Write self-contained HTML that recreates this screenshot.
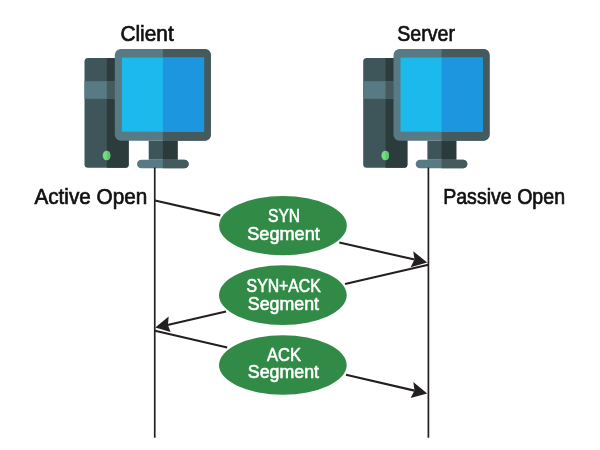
<!DOCTYPE html>
<html><head><meta charset="utf-8">
<style>
html,body{margin:0;padding:0;background:#fff;}
body{width:600px;height:450px;overflow:hidden;}
svg{display:block;will-change:transform;}
text{font-family:"Liberation Sans", sans-serif;}
</style></head>
<body>
<svg width="600" height="450" viewBox="0 0 600 450">
<rect width="600" height="450" fill="#fff"/>
<defs>
<g id="pc">
  <!-- tower -->
  <rect x="84.5" y="57.9" width="44.2" height="109.9" rx="3.5" fill="#3e5659"/>
  <path d="M106.8 57.9 H125.7 A3 3 0 0 1 128.7 60.9 V164.8 A3 3 0 0 1 125.7 167.8 H106.8 Z" fill="#2c3b3c"/>
  <rect x="84.5" y="81.2" width="44.2" height="17.6" fill="#587a84"/>
  <rect x="106.8" y="81.2" width="21.9" height="17.6" fill="#445a5d"/>
  <ellipse cx="106.5" cy="155.6" rx="3.8" ry="4.75" fill="#72de80"/>
  <path d="M106.8 150.86 A3.8 4.75 0 0 1 106.8 160.34 Z" fill="#60c870"/>
  <!-- monitor frame -->
  <rect x="114.8" y="48.9" width="96.1" height="91.9" rx="6" fill="#587a84"/>
  <path d="M162.9 48.9 H204.9 A6 6 0 0 1 210.9 54.9 V134.8 A6 6 0 0 1 204.9 140.8 H162.9 Z" fill="#445a5d"/>
  <rect x="121.8" y="57.6" width="82.3" height="74.1" fill="#1bb9ec"/>
  <rect x="162.9" y="57.6" width="41.2" height="74.1" fill="#1b96df"/>
  <!-- neck -->
  <rect x="148.7" y="140.8" width="28.9" height="18.9" fill="#3d5558"/>
  <rect x="162.9" y="140.8" width="14.7" height="18.9" fill="#2b3a3b"/>
  <!-- base -->
  <rect x="137" y="159.7" width="51.7" height="8.6" rx="4.3" fill="#587a84"/>
  <path d="M162.9 159.7 H184.4 A4.3 4.3 0 0 1 184.4 168.3 H162.9 Z" fill="#445a5d"/>
</g>
</defs>

<use href="#pc"/>
<use href="#pc" transform="translate(278.7 0)"/>

<!-- lifelines -->
<line x1="154.75" y1="167.5" x2="154.75" y2="437.8" stroke="#231f20" stroke-width="1.7"/>
<line x1="428.4" y1="167.5" x2="428.4" y2="437.8" stroke="#231f20" stroke-width="1.7"/>

<!-- arrows -->
<g stroke="#231f20" stroke-width="2.1" fill="none">
  <line x1="155" y1="200.5" x2="220.3" y2="215.36"/>
  <line x1="339.3" y1="242.44" x2="414.5" y2="259.55"/>
  <line x1="428.4" y1="264.7" x2="345" y2="283.99"/>
  <line x1="226" y1="311.5" x2="167.5" y2="325.03"/>
  <line x1="155" y1="330.8" x2="227.2" y2="347.44"/>
  <line x1="346" y1="374.83" x2="414.5" y2="390.61"/>
</g>
<g fill="#231f20">
  <path d="M427.2 262.5 L413.2 251.2 L414.5 259.4 L410.6 267.3 Z"/>
  <path d="M155.3 327.6 L168.7 316.5 L167.9 324.9 L170.6 332.1 Z"/>
  <path d="M427.2 393.5 L413.3 382.0 L414.5 390.5 L410.6 398.0 Z"/>
</g>

<!-- ellipses -->
<g fill="#318b47">
  <ellipse cx="282.95" cy="225.65" rx="63.85" ry="29.7"/>
  <ellipse cx="282.85" cy="295.15" rx="63.85" ry="29.8"/>
  <ellipse cx="282.85" cy="365" rx="63.85" ry="29.7"/>
</g>

<!-- labels -->
<g fill="#111" stroke="#111" stroke-width="0.7" font-size="22.5">
  <text x="120.4" y="41.2" textLength="53.4" lengthAdjust="spacingAndGlyphs">Client</text>
  <text x="397.2" y="41.4" textLength="57.8" lengthAdjust="spacingAndGlyphs">Server</text>
  <text x="34.4" y="203.5" textLength="112.81" lengthAdjust="spacingAndGlyphs">Active Open</text>
  <text x="443.2" y="203.5" textLength="121.83" lengthAdjust="spacingAndGlyphs">Passive Open</text>
</g>
<g fill="#fff" stroke="#fff" stroke-width="0.55" font-size="17.5">
  <text x="268.0" y="221.7" textLength="32.1" lengthAdjust="spacingAndGlyphs">SYN</text>
  <text x="247.2" y="239.5" textLength="72.62" lengthAdjust="spacingAndGlyphs">Segment</text>
  <text x="246.6" y="292.3" textLength="74.22" lengthAdjust="spacingAndGlyphs">SYN+ACK</text>
  <text x="247.8" y="309.9" textLength="71.21" lengthAdjust="spacingAndGlyphs">Segment</text>
  <text x="267.0" y="360.7" textLength="34.0" lengthAdjust="spacingAndGlyphs">ACK</text>
  <text x="247.8" y="378.0" textLength="71.21" lengthAdjust="spacingAndGlyphs">Segment</text>
</g>
</svg>
</body></html>
